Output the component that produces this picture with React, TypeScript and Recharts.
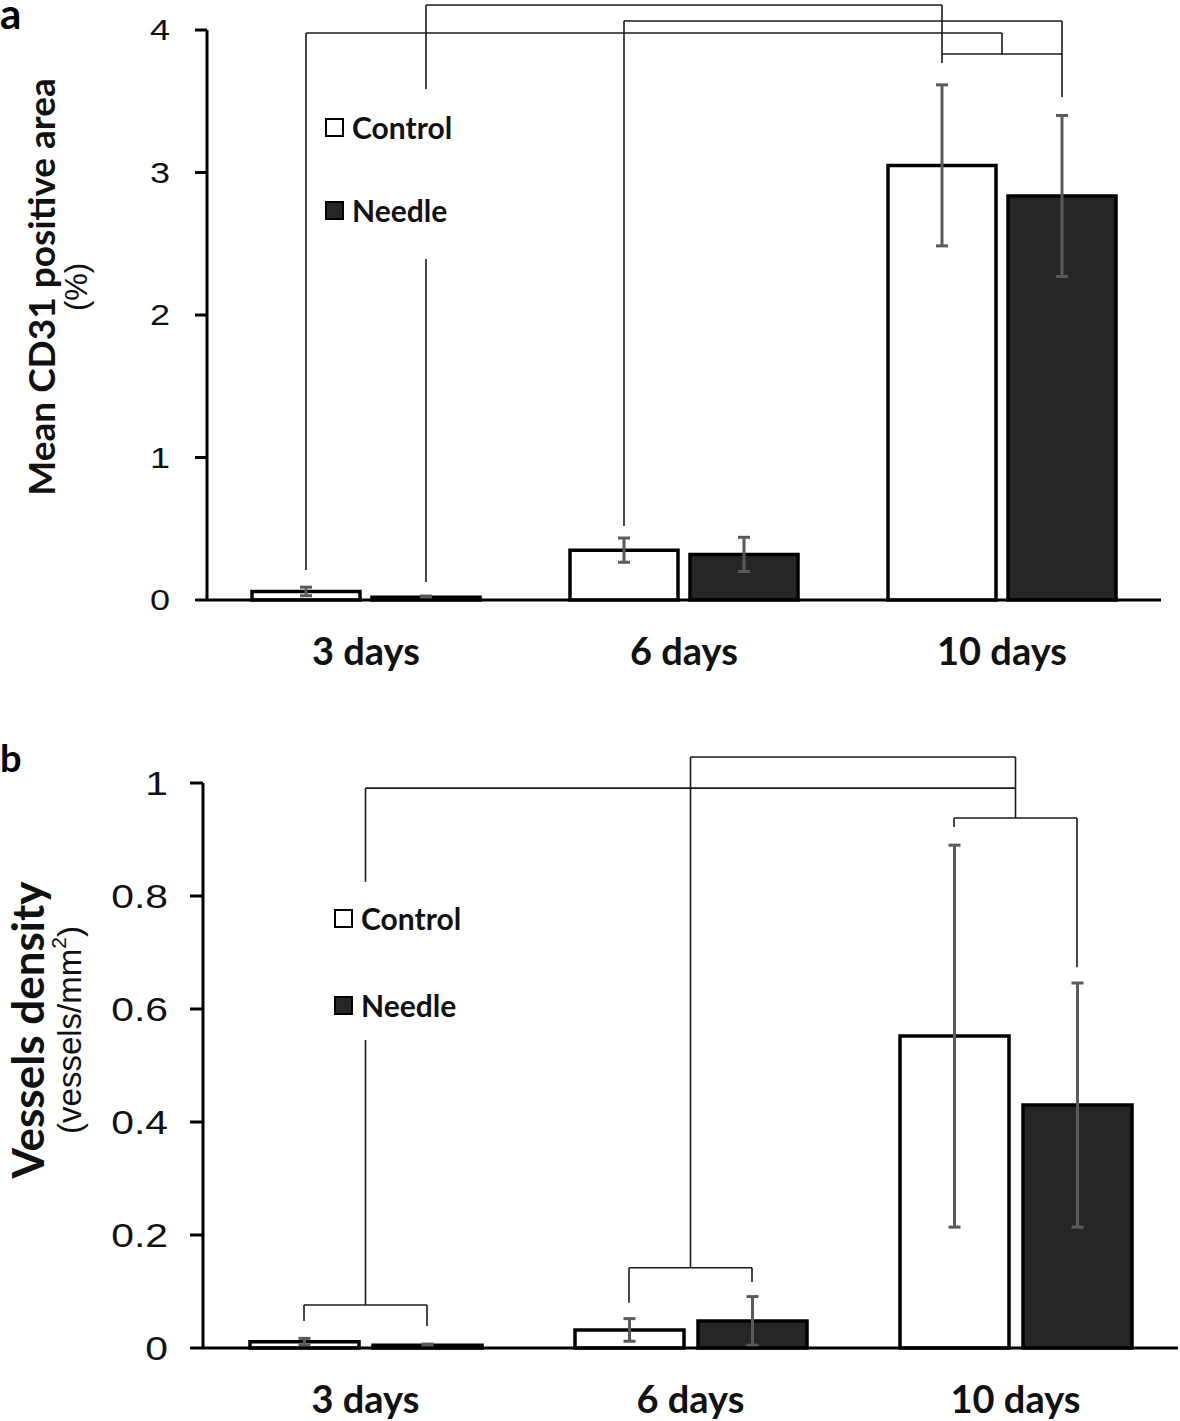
import React from "react";
import { BarChart, Bar, XAxis, YAxis, ErrorBar, Legend, ReferenceLine } from "recharts";

const categories = ["3 days", "6 days", "10 days"];
const seriesNames = ["Control", "Needle"];
const seriesFills = ["#ffffff", "#262626"];

// panel a: mean CD31 positive area (%)
const cd31Control = [0.06, 0.35, 3.05];
const cd31ControlErr = [0.03, 0.085, 0.565];
const cd31Needle = [0.02, 0.32, 2.835];
const cd31NeedleErr = [0.008, 0.12, 0.565];
const cd31Ticks = [0, 1, 2, 3, 4];

// panel b: vessels density (vessels/mm2)
const densityControl = [0.011, 0.032, 0.552];
const densityControlErr = [0.006, 0.02, 0.338];
const densityNeedle = [0.005, 0.048, 0.43];
const densityNeedleErr = [0.002, 0.043, 0.216];
const densityTicks = [0, 0.2, 0.4, 0.6, 0.8, 1];

// significance brackets as polylines: [category index, bar ("c" control, "n" needle, "m" middle), value]
type Pt = [number, string, number];
const cd31Brackets: Pt[][] = [
  [[0, "c", 0.21], [0, "c", 3.979], [2, "m", 3.979], [2, "m", 3.832]],
  [[0, "n", 3.586], [0, "n", 4.175], [2, "c", 4.175], [2, "c", 3.768]],
  [[0, "n", 2.393], [0, "n", 0.126]],
  [[1, "c", 0.52], [1, "c", 4.063], [2, "n", 4.063], [2, "n", 3.53]],
  [[2, "c", 3.832], [2, "n", 3.832]],
];
const densityBrackets: Pt[][] = [
  [[0, "m", 0.825], [0, "m", 0.991], [2, "m", 0.991]],
  [[0, "m", 0.545], [0, "m", 0.076]],
  [[0, "c", 0.048], [0, "c", 0.076], [0, "n", 0.076], [0, "n", 0.039]],
  [[1, "m", 0.142], [1, "m", 1.046], [2, "m", 1.046], [2, "m", 0.938]],
  [[1, "c", 0.08], [1, "c", 0.142], [1, "n", 0.142], [1, "n", 0.117]],
  [[2, "c", 0.922], [2, "c", 0.938], [2, "n", 0.938], [2, "n", 0.674]],
];

const cd31Rows = categories.map((day, i) => ({
  day,
  control: cd31Control[i],
  controlErr: cd31ControlErr[i],
  needle: cd31Needle[i],
  needleErr: cd31NeedleErr[i],
}));

const densityRows = categories.map((day, i) => ({
  day,
  control: densityControl[i],
  controlErr: densityControlErr[i],
  needle: densityNeedle[i],
  needleErr: densityNeedleErr[i],
}));

const NumTick = (props: any) => {
  const { x, y, payload, fontSize } = props;
  return (
    <text
      transform={`translate(${x},${y}) scale(1.2,1)`}
      textAnchor="end"
      dominantBaseline="central"
      fontFamily="'Liberation Sans', Arial, sans-serif"
      fontSize={fontSize}
      fill="#111"
    >
      {payload.value}
    </text>
  );
};

const LegendBoxes = ({ payload, rowGap }: any) => (
  <div style={{ display: "flex", flexDirection: "column", gap: rowGap }}>
    {(payload || []).map((e: any) => (
      <div key={e.value} style={{ display: "flex", alignItems: "center", height: 30 }}>
        <span
          style={{
            display: "inline-block",
            width: 15,
            height: 15,
            border: "2.5px solid #000",
            background: seriesFills[seriesNames.indexOf(e.value)],
            marginRight: 8,
          }}
        />
        <span style={{ fontFamily: "Lato", fontWeight: 700, fontSize: 30, color: "#111", lineHeight: "30px" }}>
          {e.value}
        </span>
      </div>
    ))}
  </div>
);

const AxisTitle = ({ bold, boldSize, boldX, plain, plainSize, plainX, cy }: any) => (
  <g>
    <text
      x={boldX}
      y={cy}
      transform={`rotate(-90, ${boldX}, ${cy})`}
      textAnchor="middle"
      dominantBaseline="central"
      fontFamily="Lato"
      fontWeight={700}
      fontSize={boldSize}
      fill="#111"
    >
      {bold}
    </text>
    <text
      x={plainX}
      y={cy}
      transform={`rotate(-90, ${plainX}, ${cy})`}
      textAnchor="middle"
      dominantBaseline="central"
      fontFamily="'Liberation Sans', Arial, sans-serif"
      fontSize={plainSize}
      fill="#111"
    >
      {plain}
    </text>
  </g>
);

const Panel = ({ rows, ticks, max, brackets, height, top, right, axisX, barSize, barGap, tickSize, tickMargin, tickFont, xAxisHeight, legendPos, rowGap, title }: any) => {
  const width = 1180;
  const band = (width - axisX - right) / categories.length;
  const off = (barSize + barGap) / 2 / band;
  const px = (p: Pt) => p[0] + 0.5 + (p[1] === "c" ? -off : p[1] === "n" ? off : 0);
  const segments: any[] = [];
  brackets.forEach((line: Pt[], li: number) => {
    for (let k = 0; k < line.length - 1; k++) {
      segments.push(
        <ReferenceLine
          key={`${li}-${k}`}
          xAxisId="n"
          ifOverflow="visible"
          stroke="#1a1a1a"
          strokeWidth={1.6}
          segment={[
            { x: px(line[k]), y: line[k][2] },
            { x: px(line[k + 1]), y: line[k + 1][2] },
          ]}
        />
      );
    }
  });
  return (
    <BarChart
      width={width}
      height={height}
      data={rows}
      margin={{ top, right, bottom: 0, left: 0 }}
      barSize={barSize}
      barGap={barGap}
    >
      <XAxis
        dataKey="day"
        interval={0}
        tickLine={false}
        tickSize={0}
        tickMargin={38}
        height={xAxisHeight}
        axisLine={{ stroke: "#000", strokeWidth: 3 }}
        tick={{ fontFamily: "Lato", fontWeight: 700, fontSize: 38, fill: "#111" }}
      />
      {/* numeric twin of the category axis, used to place the brackets over the bars */}
      <XAxis xAxisId="n" dataKey="day" type="number" scale="linear" domain={[0, categories.length]} allowDataOverflow hide />
      <YAxis
        width={axisX}
        domain={[0, max]}
        ticks={ticks}
        interval={0}
        tickSize={tickSize}
        tickMargin={tickMargin}
        axisLine={{ stroke: "#000", strokeWidth: 3 }}
        tickLine={{ stroke: "#000", strokeWidth: 3 }}
        tick={(p: any) => <NumTick {...p} fontSize={tickFont} />}
        label={title}
      />
      <Legend
        layout="vertical"
        align="center"
        verticalAlign="middle"
        wrapperStyle={{ left: legendPos[0], top: legendPos[1], width: "auto" }}
        content={(p: any) => <LegendBoxes {...p} rowGap={rowGap} />}
      />
      <Bar dataKey="control" name={seriesNames[0]} fill={seriesFills[0]} stroke="#000" strokeWidth={3.5} isAnimationActive={false}>
        <ErrorBar dataKey="controlErr" width={6} strokeWidth={3} stroke="#5a5a5a" direction="y" />
      </Bar>
      <Bar dataKey="needle" name={seriesNames[1]} fill={seriesFills[1]} stroke="#000" strokeWidth={3.5} isAnimationActive={false}>
        <ErrorBar dataKey="needleErr" width={6} strokeWidth={3} stroke="#5a5a5a" direction="y" />
      </Bar>
      {segments}
    </BarChart>
  );
};

const panelLetter = (txt: string, size: number, baseline: number, topPx: number) => (
  <svg width={60} height={80} style={{ position: "absolute", left: 0, top: topPx }}>
    <text x={0} y={baseline} fontFamily="Lato" fontWeight={700} fontSize={size} fill="#000">
      {txt}
    </text>
  </svg>
);

export default function App() {
  return (
    <div style={{ position: "absolute", left: 0, top: 0, width: 1180, height: 1421, background: "#fff" }}>
      <div style={{ position: "absolute", left: 0, top: 0 }}>
        <Panel
          rows={cd31Rows}
          ticks={cd31Ticks}
          max={4}
          brackets={cd31Brackets}
          height={700}
          top={30}
          right={19}
          axisX={207}
          barSize={108}
          barGap={12}
          tickSize={12}
          tickMargin={25}
          tickFont={30}
          xAxisHeight={100}
          legendPos={[325, 112]}
          rowGap={53}
          title={<AxisTitle bold="Mean CD31 positive area" boldSize={37} boldX={40} plain="(%)" plainSize={31} plainX={76} cy={287} />}
        />
      </div>
      <div style={{ position: "absolute", left: 0, top: 700 }}>
        <Panel
          rows={densityRows}
          ticks={densityTicks}
          max={1}
          brackets={densityBrackets}
          height={721}
          top={83}
          right={2}
          axisX={203}
          barSize={109}
          barGap={14}
          tickSize={13}
          tickMargin={22}
          tickFont={34}
          xAxisHeight={73}
          legendPos={[334, 203]}
          rowGap={57}
          title={
            <AxisTitle
              bold="Vessels density"
              boldSize={44}
              boldX={27}
              plain={
                <>
                  (vessels/mm<tspan dy={-11} fontSize={21}>2</tspan>
                  <tspan dy={11}>)</tspan>
                </>
              }
              plainSize={33}
              plainX={69}
              cy={330}
            />
          }
        />
      </div>
      {panelLetter("a", 42, 29, 0)}
      {panelLetter("b", 38, 72, 700)}
    </div>
  );
}
